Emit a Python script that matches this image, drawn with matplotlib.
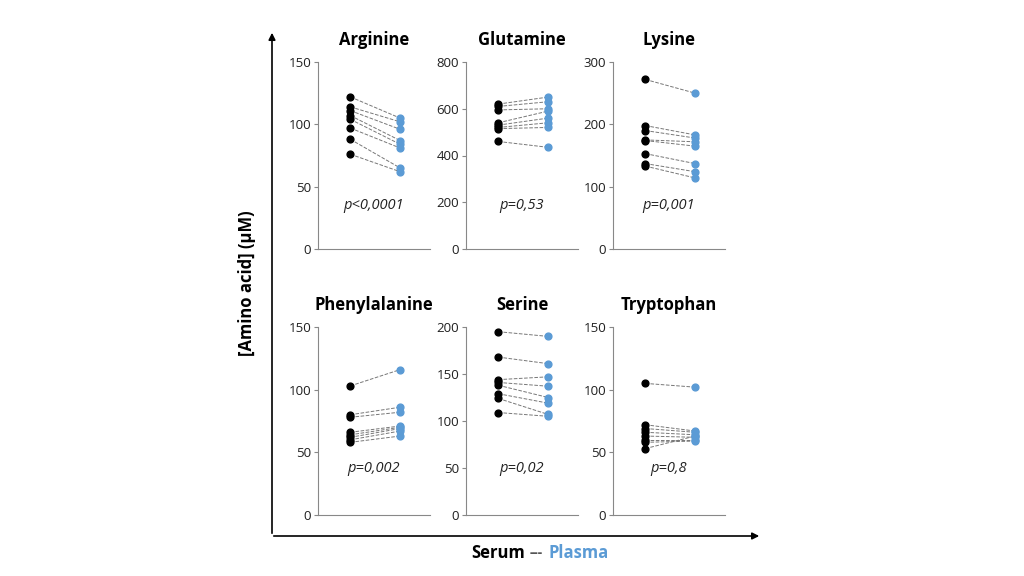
import matplotlib
matplotlib.use("Agg")
import matplotlib.pyplot as plt

titles = ["Arginine", "Glutamine", "Lysine", "Phenylalanine", "Serine", "Tryptophan"]
serum = [
    [122, 114, 111, 107, 104, 97, 88, 76],
    [620, 610, 595, 540, 530, 520, 515, 460],
    [272, 198, 190, 175, 174, 153, 137, 133],
    [103, 80, 78, 66, 64, 62, 60, 58],
    [195, 168, 144, 141, 138, 129, 124, 109],
    [105, 72, 69, 66, 63, 60, 58, 53],
]
plasma = [
    [105, 102, 96, 87, 84, 81, 65, 62],
    [650, 630, 600, 590, 560, 540, 520, 435],
    [250, 183, 178, 172, 165, 137, 124, 114],
    [116, 86, 82, 71, 70, 69, 67, 63],
    [190, 161, 147, 137, 125, 119, 107, 105],
    [102, 67, 66, 64, 62, 60, 59, 63],
]
ymax = [150, 800, 300, 150, 200, 150]
yticks = [[0, 50, 100, 150], [0, 200, 400, 600, 800], [0, 100, 200, 300],
          [0, 50, 100, 150], [0, 50, 100, 150, 200], [0, 50, 100, 150]]
pvals = ["p<0,0001", "p=0,53", "p=0,001", "p=0,002", "p=0,02", "p=0,8"]

plt.rcParams["font.family"] = "Open Sans"
W, H = 1024, 576
fig = plt.figure(figsize=(W / 100, H / 100), dpi=100)
blue = "#5b9bd5"

lefts = [318, 466, 613]
rows = [(62, 249), (327, 515)]
for i in range(6):
    r, c = divmod(i, 3)
    top, bot = rows[r]
    ax = fig.add_axes([lefts[c] / W, 1 - bot / H, 112 / W, (bot - top) / H])
    for s, p in zip(serum[i], plasma[i]):
        ax.plot([0, 1], [s, p], ls="--", color="#777777", lw=0.7, zorder=1)
    ax.scatter([0] * len(serum[i]), serum[i], s=24, color="black", zorder=3)
    ax.scatter([1] * len(plasma[i]), plasma[i], s=24, color=blue, zorder=3)
    ax.set_xlim(-0.65, 1.6)
    ax.set_ylim(0, ymax[i])
    ax.set_yticks(yticks[i])
    ax.set_xticks([])
    for sp in ["top", "right"]:
        ax.spines[sp].set_visible(False)
    for sp in ["left", "bottom"]:
        ax.spines[sp].set_color("#888888")
        ax.spines[sp].set_linewidth(0.8)
    ax.tick_params(axis="y", labelsize=9.5, length=3, color="#888888", pad=2,
                   labelcolor="#222222")
    ax.set_title(titles[i], fontsize=12, fontweight="bold", pad=12)
    ax.text(0.5, 0.235 if r == 0 else 0.25, pvals[i], transform=ax.transAxes,
            ha="center", va="center", fontsize=10.5, style="italic", color="#222222")

ov = fig.add_axes([0, 0, 1, 1])
ov.set_xlim(0, W); ov.set_ylim(H, 0); ov.axis("off")
ov.annotate("", xy=(272, 30), xytext=(272, 536),
            arrowprops=dict(arrowstyle="-|>", color="black", lw=1.2, mutation_scale=10))
ov.annotate("", xy=(762, 536), xytext=(271, 536),
            arrowprops=dict(arrowstyle="-|>", color="black", lw=1.2, mutation_scale=10))
ov.text(247, 283, "[Amino acid] (µM)", rotation=90, ha="center", va="center",
        fontsize=12, fontweight="bold")
ov.text(525, 553, "Serum", ha="right", va="center", fontsize=12, fontweight="bold")
ov.text(536, 553, "---", ha="center", va="center", fontsize=10, fontweight="bold", color="#555555")
ov.text(548, 553, "Plasma", ha="left", va="center", fontsize=12, fontweight="bold", color=blue)

fig.savefig("out.png", dpi=100)
